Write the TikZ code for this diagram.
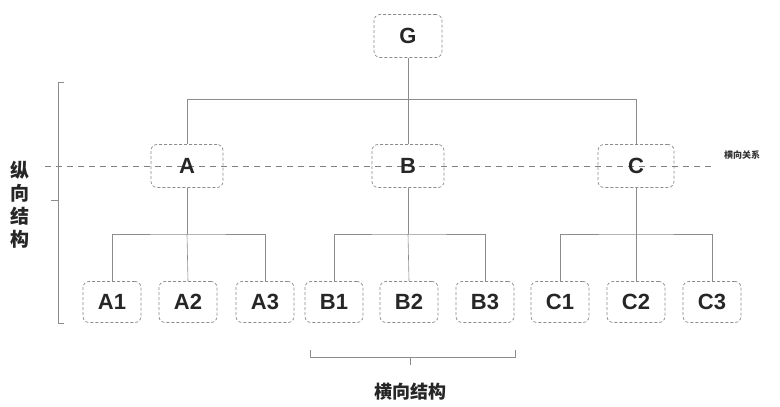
\documentclass[tikz,border=0pt]{standalone}
\usepackage{fontspec}
\usetikzlibrary{calc}
\setmainfont{Liberation Sans}
\newfontfamily\cjk{Noto Sans CJK SC}
\begin{document}
\begin{tikzpicture}[x=1pt,y=-1pt,
  box/.style={draw=black!45, densely dashed, rounded corners=6pt, line width=0.7pt, minimum width=#1, minimum height=41pt, inner sep=0pt, font=\fontsize{22}{22}\selectfont\bfseries, text=black!85},
  box/.default=58pt,
  conn/.style={draw=black!45, line width=0.6pt},
  brace/.style={draw=black!45, line width=0.6pt}]
\useasboundingbox (0,0) rectangle (780,407);
% dashed horizontal relation line
\coordinate (dl) at (45,166);
\coordinate (dr) at (712,166);
\draw[black!50, dashed, dash pattern=on 6pt off 5pt, line width=0.7pt] (dl) -- (dr);
\node[font=\cjk\fontsize{9}{9}\selectfont\bfseries, text=black!80] (hgx) at (742,155) {横向关系};
% nodes
\node[box=68pt, minimum height=43pt] (G) at (408,36) {G};
\node[box=72pt, minimum height=43pt] (A) at (187,166) {A};
\node[box=72pt, minimum height=43pt] (B) at (408,166) {B};
\node[box=76pt, minimum height=43pt] (C) at (636,166) {C};
\foreach \n/\x in {A1/112,A2/188,A3/265,B1/334,B2/409,B3/485,C1/560,C2/636,C3/712}{
  \node[box] (\n) at (\x,302) {\n};
}
% connectors
\draw[conn] (G.south) -- ++(0,41) coordinate (gj);
\draw[conn] (A.north) |- (gj) -| (C.north);
\draw[conn] (gj) -- (B.north);
\foreach \p/\a/\b/\c in {A/A1/A2/A3,B/B1/B2/B3,C/C1/C2/C3}{
  \draw[conn] (\p.south) -- (\p.south |- 0,234) coordinate (\p j);
  \draw[conn] (\a.north) |- (\p j) -| (\c.north);
  \draw[conn] (\p j) -- (\b.north);
}
% left brace
\coordinate (lb1) at (58,82);
\coordinate (lb2) at (58,323);
\draw[brace] ($(lb1)+(6,0)$) -- (lb1) -- (lb2) -- ++(6,0);
\draw[brace] (58,200) -- ++(-7,0);
\node[font=\cjk\fontsize{19}{23}\selectfont\bfseries, text=black!85, align=center] (zx) at (20,205) {纵\\向\\结\\构};
% bottom brace
\draw[brace] (310,350) -- (310,357) -- (515,357) -- (515,350);
\draw[brace] (410,357) -- ++(0,8);
\node[font=\cjk\fontsize{18}{18}\selectfont\bfseries, text=black!85] (hx) at (410,392) {横向结构};
\end{tikzpicture}
\end{document}
